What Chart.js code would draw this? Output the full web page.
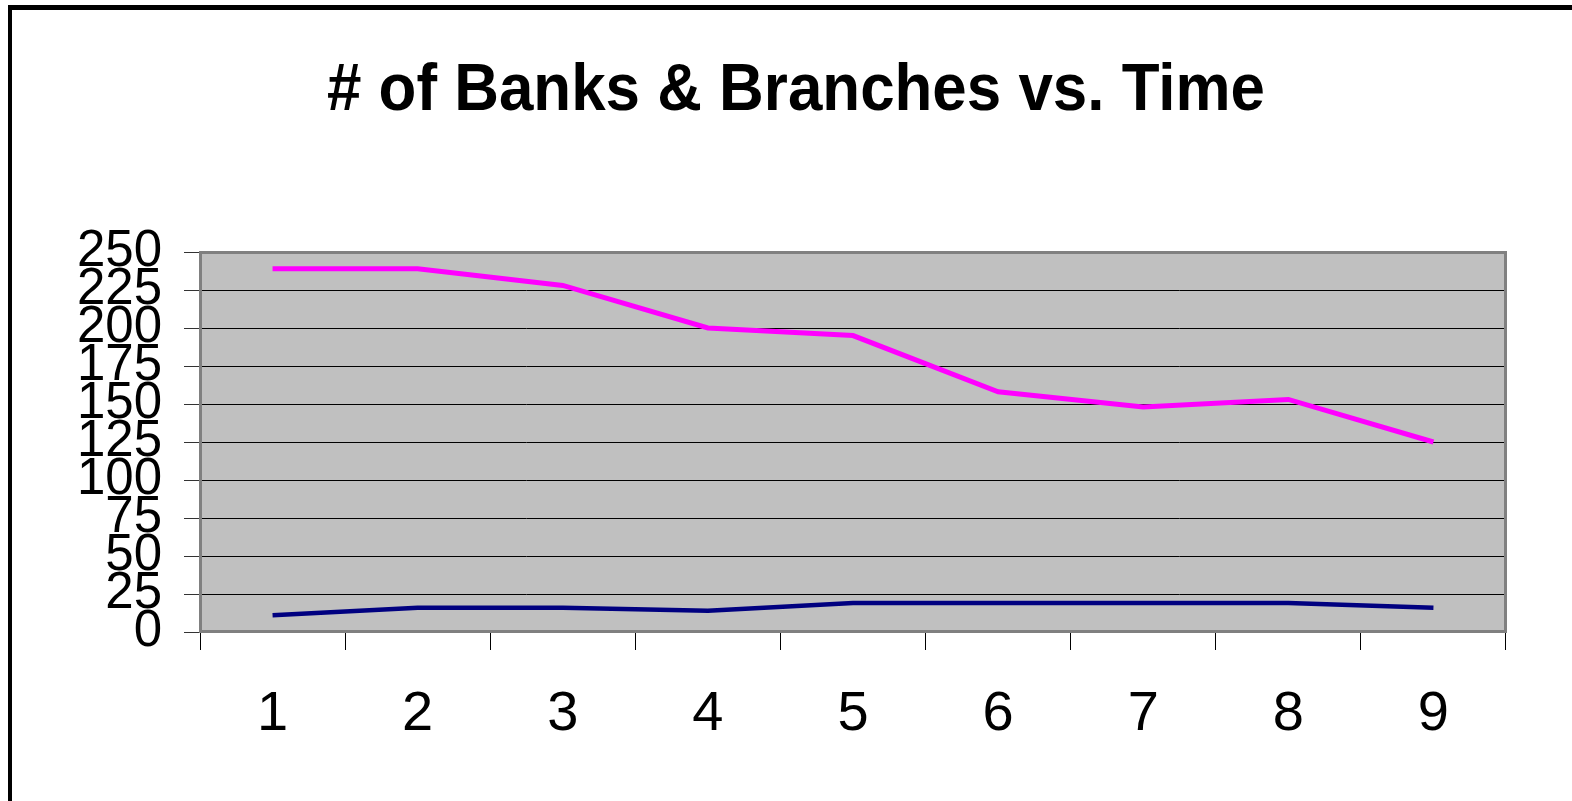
<!DOCTYPE html>
<html>
<head>
<meta charset="utf-8">
<script src="https://cdn.jsdelivr.net/npm/chart.js@4"></script>
<style>
  html, body { margin: 0; padding: 0; background: #fff; overflow: hidden; }
  #wrap { position: relative; width: 1572px; height: 801px; overflow: hidden; }
  #frame { position: absolute; left: 8px; top: 5px; width: 1700px; height: 900px;
           border-left: 4px solid #000; border-top: 5px solid #000; box-sizing: border-box; }
  #cv { position: absolute; left: 0; top: 0; }
</style>
</head>
<body>
<div id="wrap">
  <div id="frame"></div>
  <canvas id="cv" width="1572" height="801"></canvas>
</div>
<script>
/* chart data */
const titleText = "# of Banks & Branches vs. Time";
const periods   = ["1", "2", "3", "4", "5", "6", "7", "8", "9"];
const branches  = [239, 239, 228, 200, 195, 158, 148, 153, 125];
const banks     = [11, 16, 16, 14, 19, 19, 19, 19, 16];
const yTicks    = [0, 25, 50, 75, 100, 125, 150, 175, 200, 225, 250];

const FONT = "'Liberation Sans', Arial, Helvetica, sans-serif";

/* grey plot background + frame */
const plotArea = {
    id: "plotArea",
    beforeDraw(chart) {
        const a = chart.chartArea, ctx = chart.ctx;
        ctx.save();
        ctx.fillStyle = "#c0c0c0";
        ctx.fillRect(a.left, a.top, a.right - a.left, a.bottom - a.top);
        ctx.restore();
    },
    beforeDatasetsDraw(chart) {
        const a = chart.chartArea, ctx = chart.ctx;
        ctx.save();
        ctx.strokeStyle = "#808080";
        ctx.lineWidth = 3;
        ctx.strokeRect(a.left + 0.5, a.top + 0.5, a.right - a.left - 1, a.bottom - a.top - 1);
        ctx.restore();
    }
};

/* narrow bold title, like the old spreadsheet one */
const narrowTitle = {
    id: "narrowTitle",
    afterDraw(chart) {
        const ctx = chart.ctx;
        const want = 938;
        ctx.save();
        ctx.font = "bold 67px " + FONT;
        ctx.fillStyle = "#000";
        ctx.textAlign = "center";
        ctx.textBaseline = "alphabetic";
        const w = ctx.measureText(titleText).width;
        const sx = Math.min(1, want / w);
        ctx.translate(796, 110);
        ctx.scale(sx, 1);
        ctx.fillText(titleText, 0, 0);
        ctx.restore();
    }
};

new Chart(document.getElementById("cv").getContext("2d"), {
    type: "line",
    data: {
        labels: periods,
        datasets: [
            { label: "Branches", data: branches, borderColor: "#ff00ff", backgroundColor: "#ff00ff",
              borderWidth: 5, pointRadius: 0, tension: 0 },
            { label: "Banks", data: banks, borderColor: "#000080", backgroundColor: "#000080",
              borderWidth: 4.5, pointRadius: 0, tension: 0 }
        ]
    },
    options: {
        responsive: false,
        animation: false,
        layout: { padding: { left: 0, right: 66, top: 252, bottom: 0 } },
        plugins: {
            legend: { display: false },
            tooltip: { enabled: false },
            title: { display: false }
        },
        scales: {
            x: {
                offset: true,
                grid: { offset: true, drawOnChartArea: false, color: "#000", tickLength: 18, lineWidth: 1 },
                border: { display: false },
                ticks: { color: "#000", font: { family: FONT, size: 56 }, padding: 31,
                         maxRotation: 0, autoSkip: false },
                afterFit(s) { s.height = 169; }
            },
            y: {
                min: 0,
                max: 250,
                afterBuildTicks(s) { s.ticks = yTicks.map(v => ({ value: v })); },
                grid: { color: "#000", tickColor: "#333", tickLength: 16, lineWidth: 1 },
                border: { display: false },
                ticks: { color: "#000", font: { family: FONT, size: 51 }, padding: 22, autoSkip: false },
                afterFit(s) { s.width = 200; }
            }
        }
    },
    plugins: [plotArea, narrowTitle]
});
</script>
</body>
</html>
